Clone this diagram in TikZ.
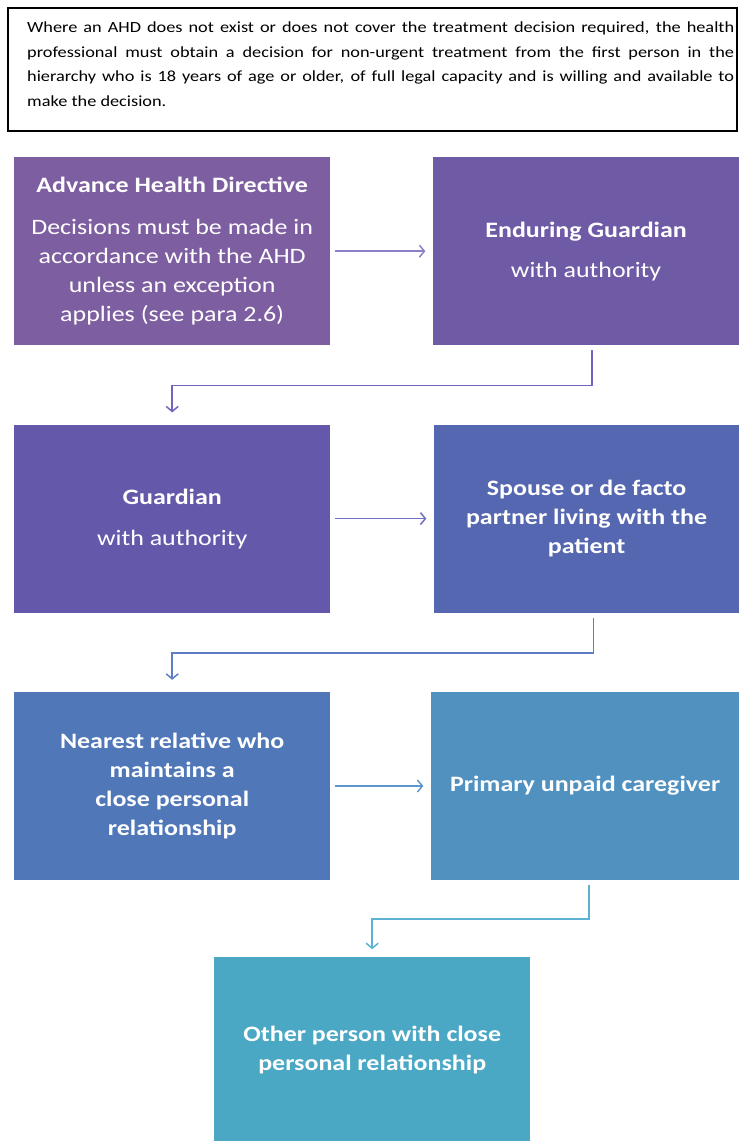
\documentclass[tikz,border=0pt]{standalone}
\usepackage{fontspec}
\setmainfont{Carlito}[FakeStretch=1.18]
\usetikzlibrary{positioning, arrows.meta}

\definecolor{ahdcol}{HTML}{7D5EA0}
\definecolor{egcol}{HTML}{6E5AA5}
\definecolor{gdcol}{HTML}{6458AA}
\definecolor{spcol}{HTML}{5567B0}
\definecolor{nrcol}{HTML}{5078B9}
\definecolor{pucol}{HTML}{5091C0}
\definecolor{otcol}{HTML}{4BA8C5}
\definecolor{arrA}{HTML}{8F7FC8}
\definecolor{arrB}{HTML}{7462BE}
\definecolor{arrC}{HTML}{7070C4}
\definecolor{arrD}{HTML}{5F7DC4}
\definecolor{arrE}{HTML}{5C98CE}
\definecolor{arrF}{HTML}{5CB2D2}

\begin{document}
\begin{tikzpicture}[
        x=1pt, y=-1pt, % coordinates in pixels, downwards
        box/.style = {rectangle, fill=#1, text=white, align=center,
            minimum width=316pt, minimum height=188pt, inner sep=0pt,
            font=\fontsize{22}{29}\selectfont}, % coloured boxes
        link/.style = {draw=#1, line width=1.5pt,
            -{Straight Barb[length=5pt, width=12pt]}, shorten <=5pt}, % connectors
    ]
    \useasboundingbox (0,0) rectangle (739,1141);

    % explanatory note
    \draw[line width=2pt] (8,8) rectangle (737,131);
    \node[anchor=north west, inner sep=0pt, text width=707pt, align=justify,
        font=\fontsize{15.5}{24.5}\selectfont] (note) at (27,22)
        {Where an AHD does not exist or does not cover the treatment decision required, the health\linebreak
        professional must obtain a decision for non-urgent treatment from the first person in the\linebreak
        hierarchy who is 18 years of age or older, of full legal capacity and is willing and available to\linebreak
        make the decision.};

    % hierarchy
    \node[box=ahdcol, anchor=north west] (ahd) at (14,157)
        {\textbf{Advance Health Directive}\\[13pt]
        Decisions must be made in\\ accordance with the AHD\\ unless an exception\\ applies (see para 2.6)};
    \node[box=egcol, minimum width=307pt, right=102pt of ahd] (eg)
        {\textbf{Enduring Guardian}\\[11pt] with authority};
    \node[box=gdcol, below=79pt of ahd] (guardian)
        {\textbf{Guardian}\\[12pt] with authority};
    \node[box=spcol, minimum width=306pt, right=103pt of guardian] (spouse)
        {\textbf{Spouse or de facto}\\ \textbf{partner living with the}\\ \textbf{patient}};
    \node[box=nrcol, below=79pt of guardian] (nearest)
        {\textbf{Nearest relative who}\\ \textbf{maintains a}\\ \textbf{close personal}\\ \textbf{relationship}};
    \node[box=pucol, minimum width=309pt, right=100pt of nearest] (primary)
        {\textbf{Primary unpaid caregiver}};
    \node[box=otcol, minimum height=186pt, below=77pt of nearest, xshift=200pt] (other)
        {\textbf{Other person with close}\\ \textbf{personal relationship}};

    \draw[link=arrA, shorten >=7pt] (ahd) -- (eg);
    \draw[link=arrB, shorten >=12pt] ([xshift=6pt]eg.south) -- ++(0,-40pt) -| (guardian.north);
    \draw[link=arrC, shorten >=7pt] (guardian) -- (spouse);
    \draw[link=arrD, shorten >=12pt] ([xshift=7pt]spouse.south) -- ++(0,-40pt) -| (nearest.north);
    \draw[link=arrE, shorten >=7pt] (nearest) -- (primary);
    \draw[link=arrF, shorten >=8pt] ([xshift=4pt]primary.south) -- ++(0,-39pt) -| (other.north);

\end{tikzpicture}
\end{document}
